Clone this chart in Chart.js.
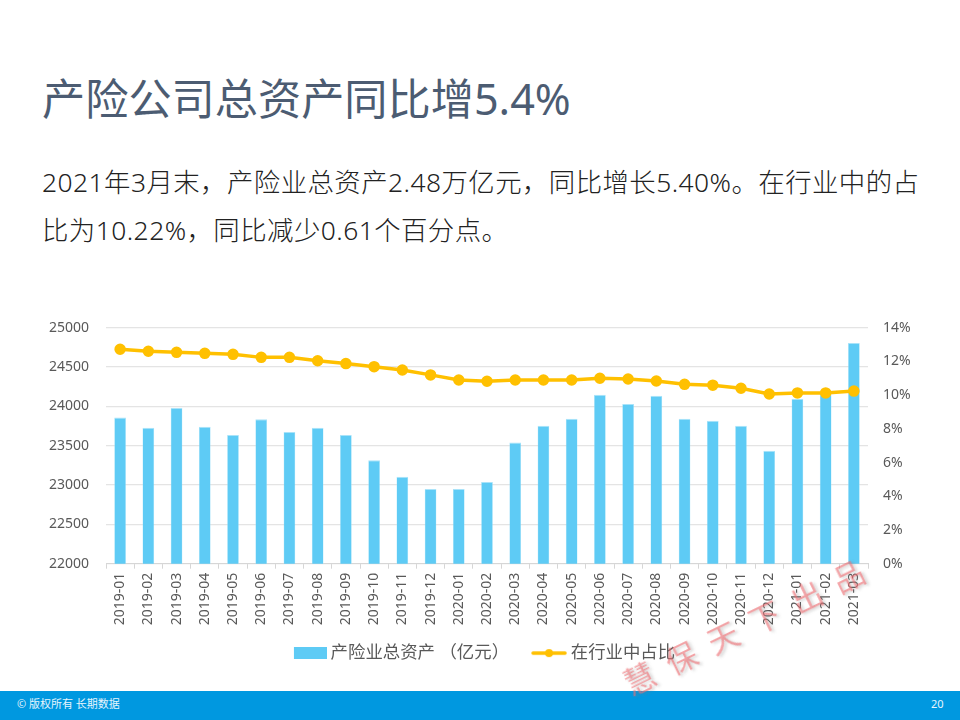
<!DOCTYPE html>
<html lang="zh"><head><meta charset="utf-8">
<style>
html,body{margin:0;padding:0;background:#fff;width:960px;height:720px;overflow:hidden;font-family:"Noto Sans","Noto Sans CJK SC",sans-serif}
#wrap{position:absolute;left:0;top:300px;width:960px;height:390px}
.t{position:absolute;white-space:nowrap}
#title{left:42px;top:67px;font-size:43.2px;line-height:64px;color:#4c5c72;font-weight:400}
#sub{left:42px;top:158px;font-size:26.4px;line-height:48px;letter-spacing:.45px;color:#222;font-weight:300}
#bar{position:absolute;left:0;top:691px;width:960px;height:29px;background:#0098e0}
#foot{left:17px;top:696px;font-size:11px;line-height:16px;color:#e6f5fd}
#page{left:931px;top:696px;font-size:11px;line-height:16px;color:#e6f5fd}
#mark{left:625px;top:664px;font-size:31px;line-height:40px;letter-spacing:15.5px;color:rgba(240,110,115,.6);transform:rotate(-26deg);transform-origin:0 50%;text-shadow:2px 2px 3px rgba(120,120,120,.3);font-family:"Noto Sans CJK SC"}
</style></head><body>
<div class="t" id="title">产险公司总资产同比增5.4%</div>
<div class="t" id="sub">2021年3月末，产险业总资产2.48万亿元，同比增长5.40%。在行业中的占<br>比为10.22%，同比减少0.61个百分点。</div>
<div id="wrap"><canvas id="c" width="960" height="390"></canvas></div>
<div id="bar"></div>
<div class="t" id="foot">© 版权所有 长期数据</div>
<div class="t" id="page">20</div>
<div class="t" id="mark">慧保天下出品</div>
<script src="https://cdn.jsdelivr.net/npm/chart.js@4"></script>
<script>
const categories=["2019-01","2019-02","2019-03","2019-04","2019-05","2019-06","2019-07","2019-08","2019-09","2019-10","2019-11","2019-12","2020-01","2020-02","2020-03","2020-04","2020-05","2020-06","2020-07","2020-08","2020-09","2020-10","2020-11","2020-12","2021-01","2021-02","2021-03"];
const totalAssets=[23860,23729,23978,23742,23636,23835,23674,23729,23636,23315,23105,22950,22950,23040,23540,23754,23843,24148,24029,24135,23843,23818,23754,23437,24097,24155,24805];
const industryShare=[12.72,12.6,12.54,12.48,12.42,12.24,12.24,12.04,11.87,11.69,11.49,11.2,10.9,10.82,10.9,10.9,10.9,11.0,10.96,10.84,10.64,10.59,10.41,10.07,10.13,10.13,10.24];
const seriesNames=["产险业总资产 （亿元）","在行业中占比"];
const BAR="#5ecbf5",LINE="#ffc000",TXT="#595959",GRID="#e4e4e4";
const FONT='"Noto Sans","Noto Sans CJK SC",sans-serif';
const BOX=45,CW=55;
function swatchBar(){const s=document.createElement('canvas');s.width=CW;s.height=12;const x=s.getContext('2d');x.fillStyle=BAR;x.fillRect(CW-33,0,33,12);return s;}
function swatchLine(){const s=document.createElement('canvas');s.width=CW;s.height=12;const x=s.getContext('2d');const o=CW-36;x.strokeStyle=LINE;x.lineWidth=3.5;x.lineCap='round';x.beginPath();x.moveTo(o+2,6);x.lineTo(o+34,6);x.stroke();x.fillStyle=LINE;x.beginPath();x.arc(o+18,6,4,0,Math.PI*2);x.fill();return s;}
new Chart(document.getElementById('c'),{
 data:{labels:categories,datasets:[
  {type:'line',label:seriesNames[1],data:industryShare,yAxisID:'y1',borderColor:LINE,backgroundColor:LINE,borderWidth:3.5,pointRadius:4,pointHoverRadius:4,tension:0,order:1},
  {type:'bar',label:seriesNames[0],data:totalAssets,yAxisID:'y',backgroundColor:BAR,borderColor:'#a9e3f9',borderWidth:{top:1,left:0.5,right:0.5,bottom:0},categoryPercentage:1,barPercentage:0.415,order:2}
 ]},
 options:{responsive:false,animation:false,devicePixelRatio:1,
  layout:{padding:{top:27.7,bottom:18.2,left:0,right:8}},
  plugins:{tooltip:{enabled:false},legend:{position:'bottom',
    labels:{usePointStyle:true,pointStyleWidth:BOX,boxHeight:12,padding:8,color:TXT,font:{family:FONT,size:17.4},
     generateLabels(){return [
       {text:seriesNames[0],pointStyle:swatchBar(),fontColor:TXT,datasetIndex:1,lineWidth:0,strokeStyle:'rgba(0,0,0,0)',fillStyle:BAR},
       {text:seriesNames[1],pointStyle:swatchLine(),fontColor:TXT,datasetIndex:0,lineWidth:0,strokeStyle:'rgba(0,0,0,0)',fillStyle:LINE}];}}}},
  scales:{
   x:{offset:true,afterFit(s){s.height=72.7;},
      grid:{display:true,drawOnChartArea:false,drawTicks:true,tickLength:5,color:'#d6d6d6',offset:true},
      border:{color:'#d6d6d6'},
      ticks:{color:TXT,font:{family:FONT,size:14},padding:4,minRotation:90,maxRotation:90,autoSkip:false}},
   y:{position:'left',min:22000,max:25000,afterFit(s){s.width=106;},
      grid:{color:GRID,lineWidth:1.3,drawTicks:false},border:{display:false},
      ticks:{stepSize:500,color:TXT,font:{family:FONT,size:14},padding:17,callback:v=>String(v)}},
   y1:{position:'right',min:0,max:14,afterFit(s){s.width=84;},
      grid:{drawOnChartArea:false,drawTicks:false},border:{display:false},
      ticks:{stepSize:2,color:TXT,font:{family:FONT,size:14},padding:15,callback:v=>v+'%'}}
  }}
});
</script></body></html>
